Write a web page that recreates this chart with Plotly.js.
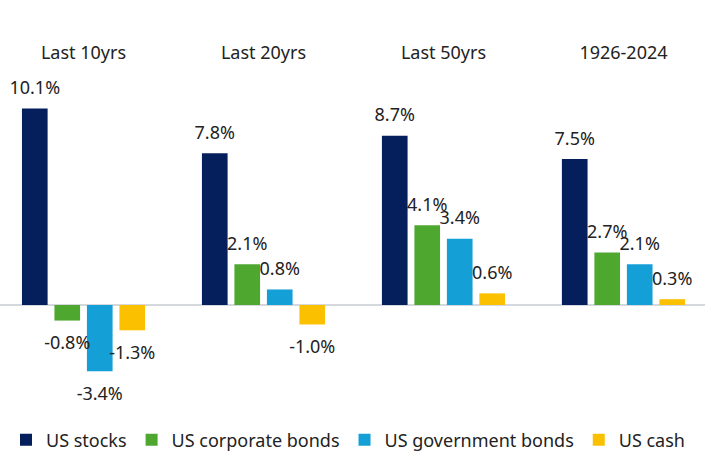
<!DOCTYPE html>
<html>
<head>
<meta charset="utf-8">
<script src="https://cdn.plot.ly/plotly-3.0.1.min.js"></script>
<style>html,body{margin:0;padding:0;background:#fff;}#chart{width:705px;height:470px;}</style>
</head>
<body>
<div id="chart"></div>
<script>
const periods = ["Last 10yrs", "Last 20yrs", "Last 50yrs", "1926-2024"];
const seriesNames = ["US stocks", "US corporate bonds", "US government bonds", "US cash"];
const usStocks = [10.1, 7.8, 8.7, 7.5];
const usCorporateBonds = [-0.8, 2.1, 4.1, 2.7];
const usGovernmentBonds = [-3.4, 0.8, 3.4, 2.1];
const usCash = [-1.3, -1.0, 0.6, 0.3];
const seriesColors = ["#041f5c", "#4ea82f", "#159fd7", "#fbc100"];

const values = [usStocks, usCorporateBonds, usGovernmentBonds, usCash];
const font = "Noto Sans, Open Sans, sans-serif";
const labelGap = 0.33; // extra spacing between bar end and its value label (axis units)

const barTraces = values.map((v, i) => ({
  type: "bar",
  name: seriesNames[i],
  x: periods,
  y: v,
  offsetgroup: String(i),
  marker: {color: seriesColors[i]},
  hoverinfo: "skip"
}));

// transparent spacer bars in the same slot carry the value labels
const labelTraces = values.map((v, i) => ({
  type: "bar",
  name: seriesNames[i] + " label",
  showlegend: false,
  x: periods,
  base: v,
  y: v.map(d => d >= 0 ? labelGap : -labelGap),
  offsetgroup: String(i),
  marker: {color: "rgba(0,0,0,0)"},
  text: v.map(d => d.toFixed(1) + "%"),
  texttemplate: "%{text}",
  textposition: "outside",
  constraintext: "none",
  cliponaxis: false,
  textfont: {family: font, size: 18, color: "#222222"},
  hoverinfo: "skip"
}));

const layout = {
  width: 705,
  height: 470,
  margin: {l: 0, r: 0, t: 70, b: 0},
  paper_bgcolor: "#ffffff",
  plot_bgcolor: "#ffffff",
  barmode: "group",
  bargap: 0.278,
  bargroupgap: 0.21,
  font: {family: font, color: "#222222"},
  xaxis: {
    side: "top",
    type: "category",
    range: [-0.464, 3.453],
    showgrid: false,
    showline: false,
    ticks: "",
    ticklabelstandoff: 6,
    tickfont: {family: font, size: 18, color: "#222222"}
  },
  yaxis: {
    range: [-8.48, 12.08],
    showgrid: false,
    showticklabels: false,
    ticks: "",
    zeroline: true,
    zerolinecolor: "#d5d9de",
    zerolinewidth: 1.5
  },
  showlegend: true,
  legend: {
    orientation: "h",
    x: 0.0085,
    xanchor: "left",
    y: 0.075,
    yanchor: "middle",
    bgcolor: "rgba(0,0,0,0)",
    font: {family: font, size: 18, color: "#222222"},
    itemclick: false
  }
};

Plotly.newPlot("chart", barTraces.concat(labelTraces), layout, {displayModeBar: false, staticPlot: true});
</script>
</body>
</html>
